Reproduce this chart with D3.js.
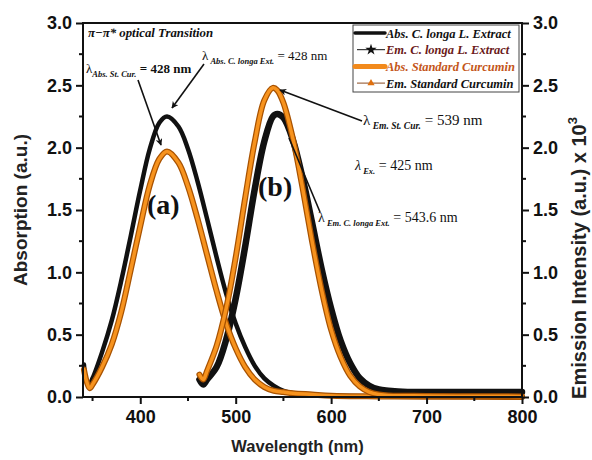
<!DOCTYPE html>
<html>
<head>
<meta charset="utf-8">
<script src="https://cdn.jsdelivr.net/npm/d3@7"></script>
<style>
  body { margin: 0; background: #fff; }
  svg { display: block; }
</style>
</head>
<body>
<svg id="chart" width="592" height="460"></svg>
<script>
// wavelengths (nm) and read-off values
const absWl = [341, 344, 347, 350, 360, 370, 380, 390, 400, 410, 420, 428, 440, 450, 460, 470, 480, 490, 500, 510, 520, 530, 540, 550, 560, 580, 600, 650, 700, 800];
const absExtract = [0.26, 0.12, 0.11, 0.15, 0.36, 0.61, 0.93, 1.29, 1.66, 1.99, 2.20, 2.25, 2.17, 1.99, 1.73, 1.43, 1.12, 0.83, 0.59, 0.40, 0.25, 0.15, 0.09, 0.05, 0.03, 0.015, 0.01, 0.005, 0.003, 0.0];
const absCurcumin = [0.22, 0.12, 0.07, 0.10, 0.24, 0.42, 0.68, 1.02, 1.37, 1.70, 1.91, 1.97, 1.88, 1.69, 1.43, 1.14, 0.85, 0.59, 0.39, 0.24, 0.14, 0.08, 0.05, 0.04, 0.03, 0.02, 0.01, 0.005, 0.003, 0.0];

const emWl = [462, 466, 470, 480, 490, 500, 510, 520, 530, 539, 543.6, 550, 560, 570, 580, 590, 600, 610, 620, 630, 640, 650, 660, 680, 700, 750, 800];
const emExtract = [0.14, 0.10, 0.14, 0.24, 0.46, 0.79, 1.21, 1.67, 2.05, 2.25, 2.27, 2.24, 2.06, 1.76, 1.40, 1.03, 0.71, 0.45, 0.27, 0.15, 0.09, 0.06, 0.05, 0.04, 0.04, 0.04, 0.04];
const emCurcumin = [0.18, 0.14, 0.21, 0.41, 0.71, 1.12, 1.60, 2.05, 2.38, 2.48, 2.46, 2.36, 2.07, 1.68, 1.25, 0.86, 0.54, 0.32, 0.17, 0.085, 0.04, 0.02, 0.012, 0.01, 0.008, 0.006, 0.005];

const xTicks = [400, 500, 600, 700, 800];
const xMinor = [350, 450, 550, 650, 750];
const yTicks = [0, 0.5, 1.0, 1.5, 2.0, 2.5, 3.0];
const yMinor = [0.25, 0.75, 1.25, 1.75, 2.25, 2.75];

const legendItems = [
    {label: "Abs. C. longa L. Extract", color: "#111", text: "#111", kind: "thick"},
    {label: "Em. C. longa L. Extract", color: "#111", text: "#6b1a1a", kind: "star"},
    {label: "Abs. Standard Curcumin", color: "#f28a1c", text: "#c4561a", kind: "thickOrange"},
    {label: "Em. Standard Curcumin", color: "#8a4a20", text: "#111", kind: "tri"}
];

let svg = d3.select('#chart'),
    m = {top: 23, right: 70, bottom: 63, left: 83},
    width = 592 - m.left - m.right,
    height = 460 - m.top - m.bottom;

let xScale = d3.scaleLinear().domain([340, 800]).range([m.left, m.left + width]);
let yScale = d3.scaleLinear().domain([0, 3]).range([m.top + height, m.top]);
let yRight = d3.scaleLinear().domain([0, 3]).range([m.top + height, m.top]);

let defs = svg.append("defs");
defs.append("marker")
    .attr("id", "arrow")
    .attr("viewBox", "0 0 10 10")
    .attr("refX", 9).attr("refY", 5)
    .attr("markerWidth", 7).attr("markerHeight", 7)
    .attr("markerUnits", "userSpaceOnUse")
    .attr("orient", "auto")
    .append("path").attr("d", "M0,0 L10,5 L0,10 L3,5 z").attr("fill", "#111");

// curves
function lineFor(wl, yS) {
    return d3.line()
        .x((d, i) => xScale(wl[i]))
        .y(d => yS(d))
        .curve(d3.curveCatmullRom.alpha(0.5));
}
let curves = svg.append("g").attr("fill", "none").attr("stroke-linejoin", "round").attr("stroke-linecap", "round");

curves.append("path").attr("d", lineFor(absWl, yScale)(absExtract))
    .attr("stroke", "#111").attr("stroke-width", 4.5);
curves.append("path").attr("d", lineFor(emWl, yRight)(emExtract))
    .attr("stroke", "#111").attr("stroke-width", 6.5);

[[absWl, absCurcumin, yScale], [emWl, emCurcumin, yRight]].forEach(function (s) {
    let p = lineFor(s[0], s[2])(s[1]);
    curves.append("path").attr("d", p).attr("stroke", "#a85200").attr("stroke-width", 6);
    curves.append("path").attr("d", p).attr("stroke", "#f7931e").attr("stroke-width", 3.5);
});

// axes
let axisFont = "'Liberation Sans', Arial, sans-serif";
let xAxis = d3.axisBottom(xScale).tickValues(xTicks).tickSize(7).tickPadding(6).tickFormat(d3.format("d"));
let gx = svg.append("g").attr("transform", "translate(0," + (m.top + height) + ")").call(xAxis);
gx.append("g").selectAll("line").data(xMinor).enter().append("line")
    .attr("x1", d => xScale(d)).attr("x2", d => xScale(d)).attr("y1", 0).attr("y2", 4);

let yAxis = d3.axisLeft(yScale).tickValues(yTicks).tickSize(7).tickPadding(4).tickFormat(d3.format(".1f"));
let gy = svg.append("g").attr("transform", "translate(" + m.left + ",0)").call(yAxis);
gy.append("g").selectAll("line").data(yMinor).enter().append("line")
    .attr("y1", d => yScale(d)).attr("y2", d => yScale(d)).attr("x1", 0).attr("x2", -4);

let yAxisR = d3.axisRight(yRight).tickValues(yTicks).tickSize(7).tickPadding(4).tickFormat(d3.format(".1f"));
let gyr = svg.append("g").attr("transform", "translate(" + (m.left + width) + ",0)").call(yAxisR);
gyr.append("g").selectAll("line").data(yMinor).enter().append("line")
    .attr("y1", d => yRight(d)).attr("y2", d => yRight(d)).attr("x1", 0).attr("x2", 4);

[gx, gy, gyr].forEach(function (g) {
    g.select(".domain").remove();
    g.selectAll("line").attr("stroke", "#111").attr("stroke-width", 2);
    g.selectAll("text").attr("font-family", axisFont).attr("font-weight", "bold")
        .attr("font-size", 18).attr("fill", "#111");
});
// frame
svg.append("rect").attr("x", m.left).attr("y", m.top).attr("width", width).attr("height", height)
    .attr("fill", "none").attr("stroke", "#111").attr("stroke-width", 2);

// axis titles
svg.append("text").attr("x", m.left + width / 2 - 5).attr("y", 452)
    .attr("text-anchor", "middle").attr("font-family", axisFont).attr("font-weight", "bold")
    .attr("font-size", 16.5).attr("fill", "#222").text("Wavelength (nm)");
svg.append("text").attr("transform", "translate(27,210) rotate(-90)")
    .attr("text-anchor", "middle").attr("font-family", axisFont).attr("font-weight", "bold")
    .attr("font-size", 19).attr("fill", "#222").text("Absorption (a.u.)");
let rt = svg.append("text").attr("transform", "translate(586,258) rotate(-90)")
    .attr("text-anchor", "middle").attr("font-family", axisFont).attr("font-weight", "bold")
    .attr("font-size", 20).attr("fill", "#222");
rt.append("tspan").text("Emission Intensity (a.u.) x 10");
rt.append("tspan").attr("dy", -9).attr("font-size", 13).text("3");

// annotations
let serif = "'Liberation Serif', 'Times New Roman', serif";
function lambdaLabel(x, y, sub, rest, opts) {
    opts = opts || {};
    let t = svg.append("text").attr("x", x).attr("y", y).attr("font-family", serif)
        .attr("font-size", opts.size || 13).attr("fill", "#111");
    t.append("tspan").attr("font-style", opts.italicL ? "italic" : null).text("λ");
    t.append("tspan").attr("dy", 4).attr("font-size", opts.subSize || 8.5).attr("font-style", "italic")
        .attr("font-weight", "bold").text(sub);
    let r = t.append("tspan").attr("dy", -4).text(rest);
    if (opts.boldRest) r.attr("font-weight", "bold");
    return t;
}
svg.append("text").attr("x", 88).attr("y", 37).attr("font-family", serif)
    .attr("font-size", 12.8).attr("font-style", "italic").attr("font-weight", "bold")
    .attr("fill", "#111").text("π−π* optical Transition");

lambdaLabel(86, 73, "Abs. St. Cur.", " = 428 nm", {boldRest: true});
lambdaLabel(202, 60, " Abs. C. longa Ext.", " = 428 nm");
lambdaLabel(363, 125, " Em. St. Cur.", " = 539 nm", {size: 15, subSize: 9.5});
lambdaLabel(355, 170, " Ex.", " = 425 nm", {size: 14, italicL: true});
lambdaLabel(318, 222, " Em. C. longa Ext.", " = 543.6 nm", {size: 14});

let ann = svg.append("g").attr("stroke", "#111").attr("stroke-width", 1.6);
ann.append("line").attr("x1", 138).attr("y1", 80).attr("x2", 161).attr("y2", 145).attr("marker-end", "url(#arrow)");
ann.append("line").attr("x1", 204).attr("y1", 64).attr("x2", 172).attr("y2", 108).attr("marker-end", "url(#arrow)");
ann.append("line").attr("x1", 362).attr("y1", 121).attr("x2", 280).attr("y2", 90).attr("marker-end", "url(#arrow)");
ann.append("line").attr("x1", 320).attr("y1", 212).attr("x2", 289).attr("y2", 138);

svg.append("text").attr("x", 147).attr("y", 214).attr("font-family", serif).attr("font-weight", "bold")
    .attr("font-size", 28).attr("fill", "#111").text("(a)");
svg.append("text").attr("x", 258).attr("y", 196).attr("font-family", serif).attr("font-weight", "bold")
    .attr("font-size", 28).attr("fill", "#111").text("(b)");

// legend
let lg = svg.append("g");
lg.append("rect").attr("x", 353).attr("y", 25).attr("width", 166).attr("height", 67)
    .attr("fill", "#fff").attr("stroke", "#444").attr("stroke-width", 1);
legendItems.forEach(function (d, i) {
    let y = 33 + i * 16.7;
    let row = lg.append("g");
    if (d.kind === "thick" || d.kind === "thickOrange") {
        row.append("line").attr("x1", 355).attr("x2", 385).attr("y1", y).attr("y2", y)
            .attr("stroke", d.color).attr("stroke-width", d.kind === "thick" ? 3.5 : 5)
            .attr("stroke-linecap", "round");
    } else {
        row.append("line").attr("x1", 357).attr("x2", 385).attr("y1", y).attr("y2", y)
            .attr("stroke", d.color).attr("stroke-width", 1);
        row.append("path")
            .attr("d", d3.symbol().type(d.kind === "star" ? d3.symbolStar : d3.symbolTriangle).size(d.kind === "star" ? 40 : 22)())
            .attr("transform", "translate(371," + y + ")")
            .attr("fill", d.kind === "star" ? "#111" : "#e0700e");
    }
    row.append("text").attr("x", 386).attr("y", y + 4.5).attr("font-family", serif)
        .attr("font-size", 12.5).attr("font-style", "italic").attr("font-weight", "bold")
        .attr("fill", d.text).text(d.label);
});
</script>
</body>
</html>
